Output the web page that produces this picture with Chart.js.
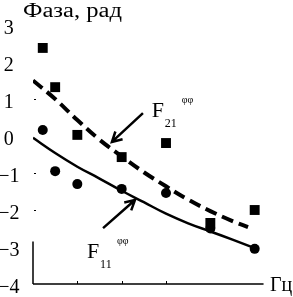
<!DOCTYPE html>
<html>
<head>
<meta charset="utf-8">
<script src="https://cdn.jsdelivr.net/npm/chart.js@4"></script>
<style>
  html, body { margin: 0; padding: 0; background: #fff; }
  #wrap { width: 293px; height: 297px; }
</style>
</head>
<body>
<div id="wrap"><canvas id="faza"></canvas></div>
<script>
// Datos
const xPuntos = [0.22, 0.5, 1, 2, 3, 4, 5];
const f21Puntos = [2.38, 1.32, 0.03, -0.57, -0.19, -2.35, -2.0];
const f11Puntos = [0.16, -0.95, -1.30, -1.43, -1.54, -2.5, -3.05];

// curvas de ajuste (leidas punto por punto)
const xCurva21 = [0, 0.5, 1, 1.5, 2, 2.5, 3, 3.5, 4, 4.5, 4.85];
const yCurva21 = [1.5, 1.0, 0.43, -0.1, -0.55, -0.98, -1.36, -1.72, -2.03, -2.3, -2.46];
const xCurva11 = [0, 0.5, 1, 1.5, 2, 2.5, 3, 3.5, 4, 4.5, 5];
const yCurva11 = [-0.05, -0.46, -0.83, -1.15, -1.48, -1.79, -2.1, -2.36, -2.58, -2.8, -3.03];

const yTicksMarcas = [1, -1, -2];
const xTicksMarcas = [1, 2, 3];

// flechas: [x cola, y cola, x punta, y punta]
const flecha21 = [2.48, 0.62, 1.78, -0.16];
const flecha11 = [1.58, -2.49, 2.30, -1.73];

const serif = '"Liberation Serif", "DejaVu Serif", serif';

const toXY = (xs, ys) => xs.map((x, i) => ({x: x, y: ys[i]}));

function flecha(ctx, x0, y0, x1, y1) {
    const ang = Math.atan2(y1 - y0, x1 - x0);
    ctx.beginPath();
    ctx.moveTo(x0, y0);
    ctx.lineTo(x1, y1);
    ctx.moveTo(x1 - 11 * Math.cos(ang - 0.5), y1 - 11 * Math.sin(ang - 0.5));
    ctx.lineTo(x1, y1);
    ctx.lineTo(x1 - 11 * Math.cos(ang + 0.5), y1 - 11 * Math.sin(ang + 0.5));
    ctx.stroke();
}

function etiqueta(ctx, x, y, sub, sup) {
    ctx.fillStyle = '#000';
    ctx.textBaseline = 'alphabetic';
    ctx.textAlign = 'left';
    ctx.font = '22px ' + serif;
    ctx.fillText('F', x, y);
    ctx.font = '12px ' + serif;
    ctx.fillText(sub, x + 13, y + 10);
    ctx.font = '10px ' + serif;
    ctx.fillText(sup, x + 30, y - 14);
}

const ejesPlugin = {
    id: 'ejes',
    beforeDatasetsDraw(chart) {
        const ctx = chart.ctx;
        const sx = chart.scales.x, sy = chart.scales.y;
        const x0 = sx.getPixelForValue(0);
        const yb = sy.getPixelForValue(-4);
        ctx.save();
        ctx.strokeStyle = '#000';
        ctx.lineWidth = 1.5;
        ctx.beginPath();
        ctx.moveTo(x0, yb);
        ctx.lineTo(sx.getPixelForValue(5.2), yb);
        ctx.moveTo(x0, yb);
        ctx.lineTo(x0, sy.getPixelForValue(-2.85));
        ctx.stroke();
        ctx.lineWidth = 1;
        xTicksMarcas.forEach(v => {
            const px = Math.round(sx.getPixelForValue(v)) + 0.5;
            ctx.beginPath();
            ctx.moveTo(px, yb);
            ctx.lineTo(px, yb - 3);
            ctx.stroke();
        });
        yTicksMarcas.forEach(v => {
            const py = Math.round(sy.getPixelForValue(v)) + 0.5;
            ctx.beginPath();
            ctx.moveTo(x0 + 1, py);
            ctx.lineTo(x0 + 3, py);
            ctx.stroke();
        });
        ctx.restore();
    },
    afterDatasetsDraw(chart) {
        const ctx = chart.ctx;
        const sx = chart.scales.x, sy = chart.scales.y;
        ctx.save();
        ctx.strokeStyle = '#000';
        ctx.lineWidth = 2.5;
        [flecha21, flecha11].forEach(f => {
            flecha(ctx, sx.getPixelForValue(f[0]), sy.getPixelForValue(f[1]),
                   sx.getPixelForValue(f[2]), sy.getPixelForValue(f[3]));
        });
        etiqueta(ctx, sx.getPixelForValue(2.68), sy.getPixelForValue(0.51), '21', 'φφ');
        etiqueta(ctx, sx.getPixelForValue(1.22), sy.getPixelForValue(-3.3), '11', 'φφ');

        // titulos de ejes
        ctx.fillStyle = '#000';
        ctx.textAlign = 'left';
        ctx.textBaseline = 'alphabetic';
        ctx.font = '20px ' + serif;
        // el titulo del original esta algo estirado a lo ancho
        const w = ctx.measureText('Фаза, рад').width;
        ctx.save();
        ctx.translate(23, 17);
        ctx.scale(99 / w, 1);
        ctx.fillText('Фаза, рад', 0, 0);
        ctx.restore();
        ctx.font = '20px ' + serif;
        ctx.fillText('Гц', 270, 291);
        ctx.restore();
    }
};

const dataFaza = {
    datasets: [
        {
            label: 'F21 ajuste',
            data: toXY(xCurva21, yCurva21),
            showLine: true,
            borderColor: '#000',
            borderWidth: 4,
            borderDash: [12, 6],
            pointRadius: 0,
            tension: 0.4,
            order: 2
        },{
            label: 'F11 ajuste',
            data: toXY(xCurva11, yCurva11),
            showLine: true,
            borderColor: '#000',
            borderWidth: 2.5,
            pointRadius: 0,
            tension: 0.4,
            order: 2
        },{
            label: 'F21',
            data: toXY(xPuntos, f21Puntos),
            pointStyle: 'rect',
            pointRadius: 7,
            backgroundColor: '#000',
            borderColor: '#000',
            borderWidth: 0,
            order: 1
        },{
            label: 'F11',
            data: toXY(xPuntos, f11Puntos),
            pointStyle: 'circle',
            pointRadius: 5,
            backgroundColor: '#000',
            borderColor: '#000',
            borderWidth: 0,
            order: 1
        }
    ]
};

const fazaConfig = {
    type: 'scatter',
    data: dataFaza,
    options: {
        responsive: true,
        maintainAspectRatio: false,
        animation: false,
        events: [],
        layout: { padding: { top: 25, right: 33, bottom: 13, left: 0 } },
        scales: {
            x: {
                type: 'linear',
                min: 0,
                max: 5.12,
                display: false
            },
            y: {
                min: -4,
                max: 3,
                grid: { display: false, drawTicks: false },
                border: { display: false },
                ticks: {
                    stepSize: 1,
                    crossAlign: 'center',
                    padding: 13.5,
                    labelOffset: 4,
                    color: '#000',
                    font: { family: serif, size: 20 },
                    callback: v => String(v).replace('-', '\u2212')
                },
                afterFit: s => {
                    s.width = 33;
                    s.paddingTop = 0;
                    s.paddingBottom = 0;
                }
            }
        },
        plugins: {
            legend: { display: false },
            tooltip: { enabled: false }
        }
    },
    plugins: [ejesPlugin]
};

const fazaChart = new Chart(document.getElementById('faza'), fazaConfig);
</script>
</body>
</html>
